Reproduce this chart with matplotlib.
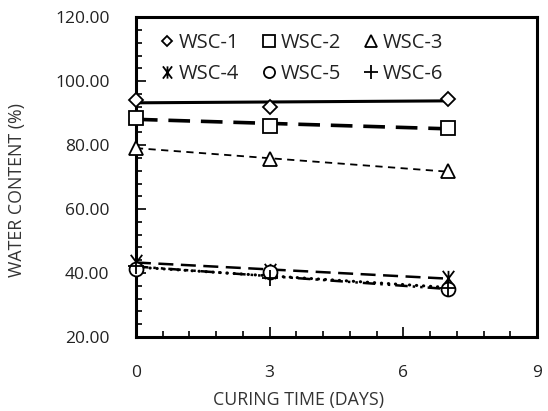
import matplotlib

matplotlib.use("Agg")
import matplotlib.pyplot as plt
import numpy as np
from matplotlib.path import Path
from matplotlib.ticker import MultipleLocator, FormatStrFormatter

plt.rcParams["font.family"] = ["Open Sans", "DejaVu Sans"]

days = [0, 3, 7]
labels = ["WSC-1", "WSC-2", "WSC-3", "WSC-4", "WSC-5", "WSC-6"]
wsc1 = [94.1, 92.0, 94.5]
wsc2 = [88.6, 85.9, 85.5]
wsc3 = [79.2, 75.7, 71.8]
wsc4 = [43.5, 40.8, 38.4]
wsc5 = [41.2, 40.3, 35.0]
wsc6 = [42.3, 38.6, 35.2]
series = [wsc1, wsc2, wsc3, wsc4, wsc5, wsc6]

# X with a vertical bar, like the spreadsheet "star" marker
star = Path(
    [(-0.75, -1), (0.75, 1), (-0.75, 1), (0.75, -1), (0, -1), (0, 1)],
    [Path.MOVETO, Path.LINETO, Path.MOVETO, Path.LINETO, Path.MOVETO, Path.LINETO],
)
markers = ["D", "s", "^", star, "o", "+"]
msizes = [7, 10, 10, 11, 10, 12]
line_styles = [
    dict(ls="-", lw=2.2),
    dict(ls=(0, (6, 3)), lw=2.6),
    dict(ls=(0, (4, 3)), lw=1.3),
    dict(ls=(0, (6, 3)), lw=1.8),
    dict(ls=(0, (0.1, 2.2)), lw=2.2, dash_capstyle="round"),
    dict(ls=(0, (5, 2, 1, 2, 1, 2)), lw=1.8),
]

fig = plt.figure(figsize=(5.48, 4.11), dpi=100)
ax = fig.add_axes([0.248, 0.18, 0.732, 0.778])

x = np.asarray(days, dtype=float)
handles = []
for name, y, m, ms, st in zip(labels, series, markers, msizes, line_styles):
    h, = ax.plot(x, y, linestyle="none", marker=m, markersize=ms, markerfacecolor="white",
                 markeredgecolor="black", markeredgewidth=1.3, label=name, zorder=3,
                 clip_on=False)
    handles.append(h)
    # linear trendline through the points
    k, b = np.polyfit(x, y, 1)
    ax.plot([x[0], x[-1]], [b + k * x[0], b + k * x[-1]], color="black", zorder=2, **st)

ax.set_xlim(0, 9)
ax.set_ylim(20, 120)
ax.xaxis.set_major_locator(MultipleLocator(3))
ax.xaxis.set_minor_locator(MultipleLocator(0.6))
ax.yaxis.set_major_locator(MultipleLocator(20))
ax.yaxis.set_minor_locator(MultipleLocator(4))
ax.yaxis.set_major_formatter(FormatStrFormatter("%.2f"))

for s in ax.spines.values():
    s.set_linewidth(2.2)
ax.tick_params(which="both", direction="in", top=False, right=False, labelsize=12.5,
               width=1.2, labelcolor="#222222")
ax.tick_params(which="major", length=7)
ax.tick_params(which="minor", length=4)
ax.tick_params(axis="x", pad=20)
ax.tick_params(axis="y", pad=19)

ax.set_xlabel("CURING TIME (DAYS)", fontsize=12.8, color="#333333")
ax.set_ylabel("WATER CONTENT (%)", fontsize=12.8, color="#333333")
ax.xaxis.set_label_coords(0.406, -0.17)
ax.yaxis.set_label_coords(-0.275, 0.46)

# row-wise order for a 3-column legend
order = [0, 3, 1, 4, 2, 5]
ax.legend([handles[i] for i in order], [labels[i] for i in order], loc="upper left",
          ncol=3, frameon=False, fontsize=14.5, handletextpad=0.15, columnspacing=1.0,
          handlelength=0.9, labelspacing=0.55, bbox_to_anchor=(0.02, 0.995),
          borderaxespad=0.3, labelcolor="#222222", markerscale=0.8)

fig.savefig("out.png", dpi=100)
